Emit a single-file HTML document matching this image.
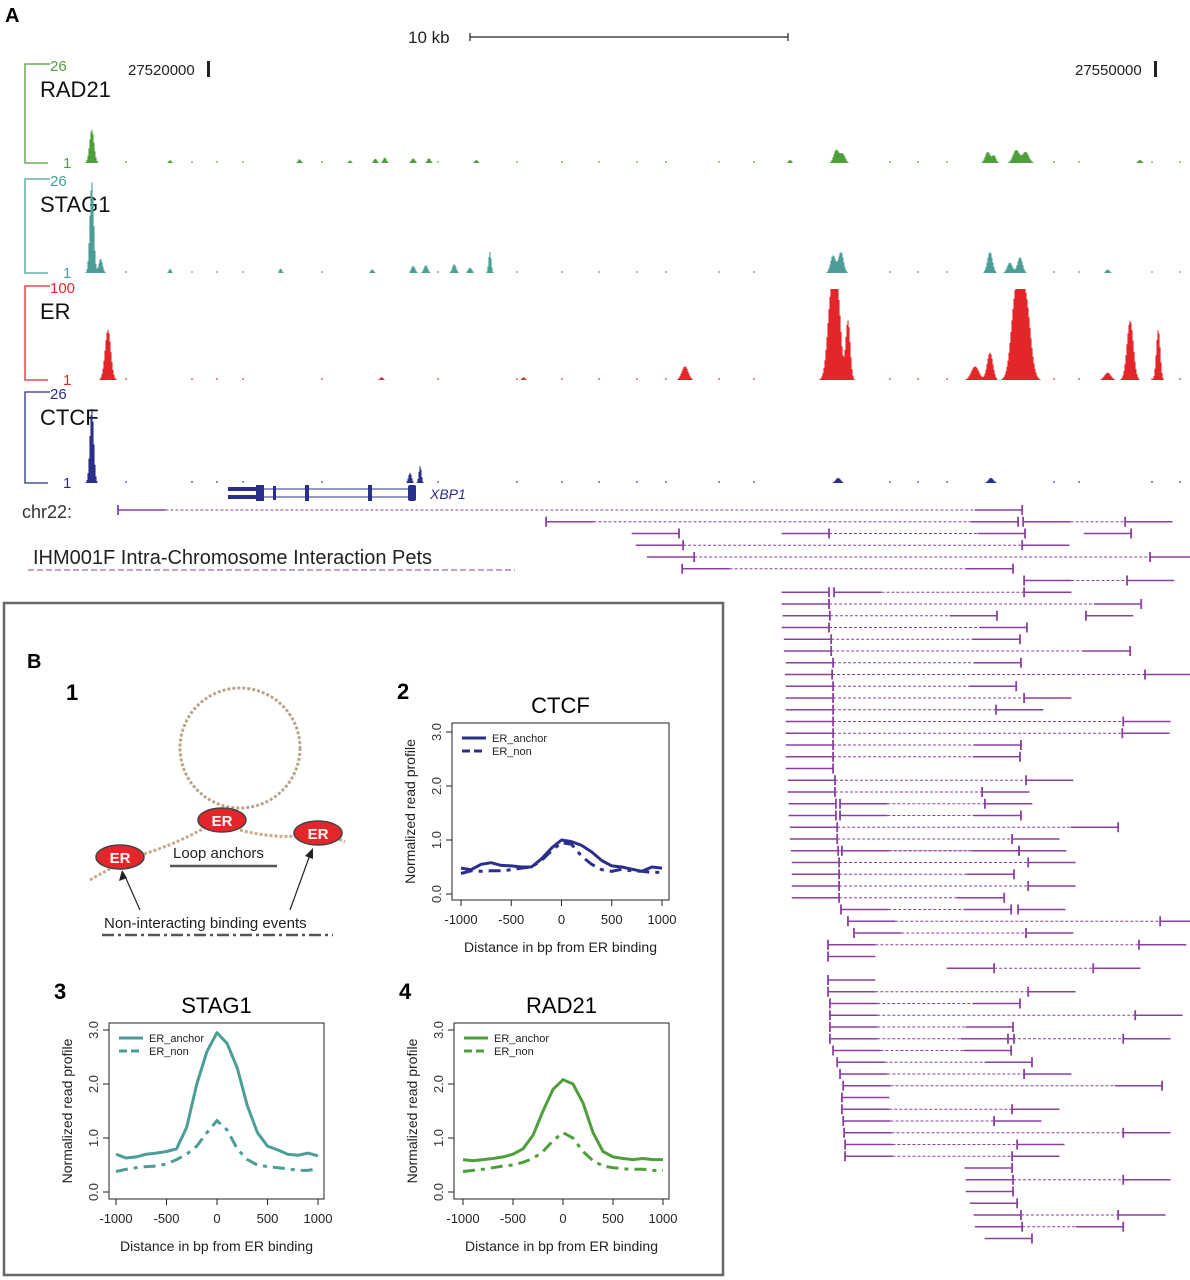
<!DOCTYPE html>
<html><head><meta charset="utf-8"><style>
html,body{margin:0;padding:0;background:#fff}
svg{display:block;font-family:"Liberation Sans",Arial,sans-serif}
</style></head><body>
<svg id="fig" width="1190" height="1280" viewBox="0 0 1190 1280" xmlns="http://www.w3.org/2000/svg">
<text x="5" y="22" font-size="20" font-weight="bold">A</text>
<text x="408" y="43" font-size="17" fill="#222">10 kb</text>
<g stroke="#222" stroke-width="1.2"><line x1="470" y1="37" x2="788" y2="37"/><line x1="470" y1="33" x2="470" y2="41"/><line x1="788" y1="33" x2="788" y2="41"/></g>
<text x="128" y="75" font-size="15" fill="#222">27520000</text>
<rect x="207" y="61" width="3" height="16" fill="#222"/>
<text x="1075" y="75" font-size="15" fill="#222">27550000</text>
<rect x="1154" y="61" width="3" height="16" fill="#222"/>
<g id="tracks"></g>
<g fill="#2b2f8c" stroke="#2b2f8c">
<line x1="228" y1="489" x2="416" y2="489" stroke-width="1"/><line x1="228" y1="497" x2="416" y2="497" stroke-width="1"/>
<rect x="228" y="487" width="36" height="4" stroke="none"/><rect x="228" y="495" width="36" height="4" stroke="none"/>
<rect x="256" y="485" width="8" height="16" stroke="none"/><rect x="273" y="486" width="3" height="14" stroke="none"/>
<rect x="305" y="485" width="4" height="16" stroke="none"/><rect x="368" y="485" width="4" height="16" stroke="none"/>
<rect x="408" y="485" width="8" height="16" rx="2" stroke="none"/>
</g>
<text x="430" y="499" font-size="14" font-style="italic" fill="#2b2f8c">XBP1</text>
<text x="22" y="518" font-size="18" fill="#333">chr22:</text>
<text x="33" y="564" font-size="20" fill="#222">IHM001F Intra-Chromosome Interaction Pets</text>
<line x1="28" y1="570" x2="515" y2="570" stroke="#8b3fa0" stroke-width="1" stroke-dasharray="6,3"/>
<g id="pets"></g>
<rect x="4" y="603" width="719" height="672" fill="none" stroke="#666" stroke-width="2.5"/>
<text x="27" y="668" font-size="20" font-weight="bold">B</text>
<g>
<text x="66" y="700" font-size="22" font-weight="bold">1</text>
<circle cx="240" cy="748" r="60" fill="none" stroke="#c9a98a" stroke-width="3" stroke-dasharray="3,2"/>
<circle cx="240" cy="748" r="60" fill="none" stroke="#999" stroke-width="1" stroke-dasharray="2,3"/>
<path d="M90,880 Q120,862 150,852 T210,825" fill="none" stroke="#c9a98a" stroke-width="3" stroke-dasharray="3,2"/>
<path d="M240,830 Q270,838 300,836 T345,842" fill="none" stroke="#c9a98a" stroke-width="3" stroke-dasharray="3,2"/>
<ellipse cx="222" cy="820" rx="24" ry="12" fill="#e3262a" stroke="#444" stroke-width="1.5"/>
<text x="222" y="826" font-size="15" font-weight="bold" fill="#fff" text-anchor="middle">ER</text>
<ellipse cx="120" cy="857" rx="24" ry="12" fill="#e3262a" stroke="#444" stroke-width="1.5"/>
<text x="120" y="863" font-size="15" font-weight="bold" fill="#fff" text-anchor="middle">ER</text>
<ellipse cx="318" cy="833" rx="24" ry="12" fill="#e3262a" stroke="#444" stroke-width="1.5"/>
<text x="318" y="839" font-size="15" font-weight="bold" fill="#fff" text-anchor="middle">ER</text>
<text x="173" y="858" font-size="15" fill="#222">Loop anchors</text>
<line x1="170" y1="866" x2="277" y2="866" stroke="#555" stroke-width="2.5"/>
<line x1="140" y1="910" x2="124" y2="874" stroke="#222" stroke-width="1.2"/>
<path d="M122,870 L119,881 L127,878 Z" fill="#222"/>
<line x1="290" y1="910" x2="311" y2="852" stroke="#222" stroke-width="1.2"/>
<path d="M313,848 L305,856 L313,859 Z" fill="#222"/>
<text x="104" y="928" font-size="15" fill="#222">Non-interacting binding events</text>
<line x1="102" y1="935" x2="333" y2="935" stroke="#555" stroke-width="2.5" stroke-dasharray="12,4,3,4"/>
</g>
<g id="profiles"></g>
</svg>
<script>
var NS='http://www.w3.org/2000/svg';
function E(tag,attrs,parent){var e=document.createElementNS(NS,tag);for(var k in attrs)e.setAttribute(k,attrs[k]);parent.appendChild(e);return e;}
var genomeTicksKb=[20,50];
function gx(kb){return 208+(kb-20)*31.57;}
// track peaks: [position kb, value, width kb]
var rad21Peaks=[[16.32,9,0.07],[18.8,0.8,0.04],[22.9,1,0.05],[24.5,0.7,0.04],[25.3,1.2,0.05],[25.6,1.5,0.05],[26.5,1.2,0.06],[27.0,1.3,0.05],[28.5,0.8,0.05],[38.44,0.8,0.05],[39.9,3.5,0.08],[40.1,2.5,0.08],[44.7,3,0.08],[44.9,2,0.06],[45.6,3.5,0.1],[45.9,3,0.1],[49.52,0.8,0.06]];
var stag1Peaks=[[16.32,26,0.06],[16.6,4,0.06],[18.8,1.2,0.04],[22.3,1.3,0.04],[25.2,1,0.05],[26.5,2,0.06],[26.9,2.2,0.06],[27.8,2.5,0.06],[28.3,1.5,0.06],[28.93,6,0.04],[39.8,5,0.08],[40.05,6,0.08],[44.77,6,0.08],[45.4,3,0.08],[45.72,4.5,0.08],[48.5,1,0.06]];
var erPeaks=[[16.83,55,0.09],[25.5,3,0.05],[30,3,0.05],[35.11,15,0.1],[39.75,95,0.12],[39.95,80,0.1],[40.27,65,0.07],[44.3,15,0.12],[44.77,30,0.09],[45.6,95,0.15],[45.9,85,0.15],[48.5,8,0.1],[49.21,65,0.1],[50.1,55,0.06]];
var ctcfPeaks=[[16.32,22,0.06],[26.4,3,0.05],[26.72,5,0.04],[39.96,1.5,0.08],[44.8,1.5,0.08]];
var noiseKb=[17.4,19.5,20.3,21.1,23.6,27.3,29.8,31.2,32.4,33.6,34.5,36.2,37.3,41.6,42.5,43.4,46.8,47.6,49.9,50.8];
var tracks=[
 {name:'RAD21',max:26,color:'#4f9e3c',top:64,bot:163,peaks:rad21Peaks},
 {name:'STAG1',max:26,color:'#4a9e96',top:179,bot:273,peaks:stag1Peaks},
 {name:'ER',max:100,color:'#e3262a',top:286,bot:380,peaks:erPeaks},
 {name:'CTCF',max:26,color:'#2b2f8c',top:392,bot:483,peaks:ctcfPeaks}];
var tg=document.getElementById('tracks');
tracks.forEach(function(t){
 var g=E('g',{},tg);
 
 
 var br=E('path',{d:'M50,'+t.top+' H25 V'+t.bot+' H48',fill:'none',stroke:t.color,'stroke-width':1.3},g);
 
 
 var mx=E('text',{x:50,y:t.top+7,'font-size':15,fill:t.color},g);mx.textContent=t.max;
 
 
 var mn=E('text',{x:63,y:t.bot+5,'font-size':15,fill:t.color},g);mn.textContent='1';
 
 
 var nm=E('text',{x:40,y:t.top+33,'font-size':22,fill:'#111'},g);nm.textContent=t.name;
 
 
 var H=t.bot-t.top-3, d='';
 for(var px=80;px<=1188;px++){
  var kb=20+(px-208)/31.57, v=0;
  t.peaks.forEach(function(p){var z=(kb-p[0])/p[2];v+=p[1]*Math.exp(-0.5*z*z);});
  var h=Math.min(H,v/t.max*H);
  if(h>0.6)d+='M'+px+','+t.bot+'v'+(-h).toFixed(1);
 }
 noiseKb.forEach(function(k){d+='M'+gx(k).toFixed(0)+','+t.bot+'v-2';});
 var sig=E('path',{d:d,stroke:t.color,'stroke-width':1.1,fill:'none'},g);
 
 
});
// PETs: lane, anchorA kb, dirA, anchorB kb, dirB
var petLanes=[0,1,1,2,2,2,3,4,5,6,7,7,8,9,9,10,11,12,13,14,15,16,17,18,19,20,21,22,23,24,25,25,26,26,27,28,29,29,30,31,32,33,34,34,35,36,37,38,39,40,41,42,43,44,45,45,46,47,48,49,50,51,52,53,54,55,56,57,58,59,60,61,62];
var petA=[17.15,30.71,45.82,34.92,39.67,49.24,35.05,35.40,35.02,45.85,39.67,39.83,39.67,39.70,47.81,39.67,39.74,39.74,39.80,39.77,39.80,39.80,39.80,39.80,39.80,39.80,39.80,39.80,39.86,39.86,39.89,40.02,39.89,40.02,39.93,39.93,39.96,40.08,39.99,39.99,39.99,39.99,40.05,45.66,40.27,40.46,39.64,39.64,44.90,39.64,39.64,39.70,39.70,39.70,39.70,45.34,39.80,39.93,40.02,40.12,40.08,40.08,40.12,40.15,40.18,40.18,45.47,45.50,45.50,45.63,45.75,45.79,46.10];
var petAd=[1,1,1,-1,-1,-1,-1,-1,1,1,-1,1,-1,-1,1,-1,-1,-1,-1,-1,-1,-1,-1,-1,-1,-1,-1,-1,-1,-1,-1,1,-1,1,-1,-1,-1,1,-1,-1,-1,-1,1,1,1,1,1,1,-1,1,1,1,1,1,1,-1,1,1,1,1,1,1,1,1,1,1,-1,-1,-1,-1,-1,-1,-1];
var petB=[45.79,45.66,49.05,null,45.88,null,45.79,49.84,45.50,49.11,null,45.85,49.56,44.99,null,45.94,45.72,49.21,45.75,49.68,45.60,45.85,44.96,48.99,48.96,45.75,45.72,null,45.91,44.52,null,44.61,null,45.75,48.83,45.47,45.69,45.69,45.98,45.53,45.98,45.22,45.44,null,50.16,45.91,49.49,null,48.04,null,45.98,45.72,49.37,45.50,45.53,48.99,45.44,46.10,45.85,50.22,null,45.47,44.90,48.99,45.63,45.47,null,48.99,null,null,48.83,48.99,null];
var petBd=[-1,-1,1,0,-1,0,1,1,-1,1,0,1,-1,-1,0,-1,-1,-1,-1,1,-1,1,1,1,1,-1,-1,0,1,1,0,1,0,-1,-1,1,1,-1,1,-1,1,-1,-1,0,1,1,1,0,1,0,1,-1,1,-1,-1,1,-1,-1,1,-1,0,1,1,1,1,1,0,1,0,0,1,-1,0];
var pg=document.getElementById('pets'), PC='#8b3fa0', SEG=1.5;
function laneY(l){return 510+l*11.75;}
petLanes.forEach(function(l,i){
 var y=laneY(l), g=E('g',{},pg);
 
 
 var a=petA[i], ad=petAd[i], b=petB[i], bd=petBd[i];
 var aS=Math.min(a,a+ad*SEG), aE=Math.max(a,a+ad*SEG);
 E('line',{x1:gx(aS),y1:y,x2:gx(aE),y2:y,stroke:PC,'stroke-width':1.4},g);
 E('line',{x1:gx(a),y1:y-5,x2:gx(a),y2:y+5,stroke:PC,'stroke-width':1.8},g);
 if(b!==null){
  var bS=Math.min(b,b+bd*SEG), bE=Math.max(b,b+bd*SEG);
  E('line',{x1:gx(bS),y1:y,x2:gx(bE),y2:y,stroke:PC,'stroke-width':1.4},g);
  E('line',{x1:gx(b),y1:y-5,x2:gx(b),y2:y+5,stroke:PC,'stroke-width':1.8},g);
  E('line',{x1:gx(aE),y1:y,x2:gx(bS),y2:y,stroke:PC,'stroke-width':1,'stroke-dasharray':'3,2'},g);
 }
});
// profile charts
var distX=[-1000,-900,-800,-700,-600,-500,-400,-300,-200,-100,0,100,200,300,400,500,600,700,800,900,1000];
var xTickLabels=['-1000','-500','0','500','1000'];
var yTickLabels=['0.0','1.0','2.0','3.0'];
var ctcfAnchor=[0.48,0.45,0.55,0.58,0.53,0.52,0.5,0.5,0.65,0.85,1.0,0.97,0.9,0.78,0.62,0.52,0.5,0.46,0.42,0.5,0.48];
var ctcfNon=[0.38,0.43,0.42,0.43,0.43,0.45,0.48,0.5,0.62,0.8,0.95,0.92,0.7,0.55,0.45,0.42,0.46,0.43,0.42,0.4,0.4];
var stag1Anchor=[0.7,0.63,0.65,0.7,0.72,0.75,0.8,1.2,2.0,2.6,2.95,2.75,2.3,1.6,1.1,0.85,0.78,0.7,0.68,0.72,0.67];
var stag1Non=[0.38,0.42,0.45,0.47,0.48,0.52,0.6,0.7,0.85,1.1,1.32,1.15,0.8,0.6,0.5,0.47,0.45,0.43,0.4,0.4,0.43];
var rad21Anchor=[0.6,0.58,0.6,0.62,0.65,0.7,0.8,1.05,1.5,1.9,2.08,2.0,1.65,1.1,0.75,0.65,0.62,0.6,0.62,0.6,0.6];
var rad21Non=[0.38,0.4,0.42,0.45,0.48,0.5,0.55,0.62,0.75,0.95,1.1,1.0,0.75,0.58,0.48,0.45,0.43,0.42,0.42,0.4,0.4];
var charts=[
 {key:'ctcf',num:'2',title:'CTCF',color:'#2b2f8c',bx:452,by:723,bw:217,bh:177,x0:461,x1:662,y0:894,y3:732,a:ctcfAnchor,n:ctcfNon},
 {key:'stag1',num:'3',title:'STAG1',color:'#4a9e96',bx:109,by:1023,bw:215,bh:176,x0:116,x1:318,y0:1192,y3:1030,a:stag1Anchor,n:stag1Non},
 {key:'rad21',num:'4',title:'RAD21',color:'#4f9e3c',bx:454,by:1023,bw:215,bh:176,x0:463,x1:663,y0:1192,y3:1030,a:rad21Anchor,n:rad21Non}];
var prof=document.getElementById('profiles');
charts.forEach(function(c){
 var g=E('g',{},prof);
 
 
 function X(v){return c.x0+(v+1000)/2000*(c.x1-c.x0);}
 function Y(v){return c.y0-v/3*(c.y0-c.y3);}
 var nt=E('text',{x:c.bx-55,y:c.by-24,'font-size':22,'font-weight':'bold'},g);nt.textContent=c.num;
 
 
 var tt=E('text',{x:c.bx+c.bw/2,y:c.by-10,'font-size':22,'text-anchor':'middle'},g);tt.textContent=c.title;
 
 
 var box=E('rect',{x:c.bx,y:c.by,width:c.bw,height:c.bh,fill:'none',stroke:'#222','stroke-width':1},g);
 
 
 yTickLabels.forEach(function(lb){
  var y=Y(parseFloat(lb));
  E('line',{x1:c.bx,y1:y,x2:c.bx-6,y2:y,stroke:'#222'},g);
  var t=E('text',{x:c.bx-11,y:y,'font-size':13,fill:'#333','text-anchor':'middle',transform:'rotate(-90 '+(c.bx-11)+' '+y+')'},g);t.textContent=lb;
  
  
 });
 xTickLabels.forEach(function(lb){
  var x=X(parseFloat(lb));
  E('line',{x1:x,y1:c.by+c.bh,x2:x,y2:c.by+c.bh+6,stroke:'#222'},g);
  var t=E('text',{x:x,y:c.by+c.bh+24,'font-size':13,fill:'#222','text-anchor':'middle'},g);t.textContent=lb;
  
  
 });
 var yl=E('text',{x:c.bx-37,y:c.by+c.bh/2,'font-size':14,fill:'#222','text-anchor':'middle',transform:'rotate(-90 '+(c.bx-37)+' '+(c.by+c.bh/2)+')'},g);yl.textContent='Normalized read profile';
 
 
 var xl=E('text',{x:c.bx+c.bw/2,y:c.by+c.bh+52,'font-size':14,fill:'#222','text-anchor':'middle'},g);xl.textContent='Distance in bp from ER binding';
 
 
 function pts(arr){return distX.map(function(d,i){return X(d).toFixed(1)+','+Y(arr[i]).toFixed(1);}).join(' ');}
 var la=E('polyline',{points:pts(c.a),fill:'none',stroke:c.color,'stroke-width':3,'stroke-linejoin':'round'},g);
 
 
 var ln=E('polyline',{points:pts(c.n),fill:'none',stroke:c.color,'stroke-width':3,'stroke-dasharray':'12,6,4,6'},g);
 
 
 var lg=E('g',{},g);
 
 
 E('line',{x1:c.bx+10,y1:c.by+15,x2:c.bx+34,y2:c.by+15,stroke:c.color,'stroke-width':3},lg);
 var l1=E('text',{x:c.bx+40,y:c.by+19,'font-size':11,fill:'#222'},lg);l1.textContent='ER_anchor';
 
 
 E('line',{x1:c.bx+10,y1:c.by+28,x2:c.bx+34,y2:c.by+28,stroke:c.color,'stroke-width':3,'stroke-dasharray':'8,4'},lg);
 var l2=E('text',{x:c.bx+40,y:c.by+32,'font-size':11,fill:'#222'},lg);l2.textContent='ER_non';
 
 
});
</script>
</body></html>
